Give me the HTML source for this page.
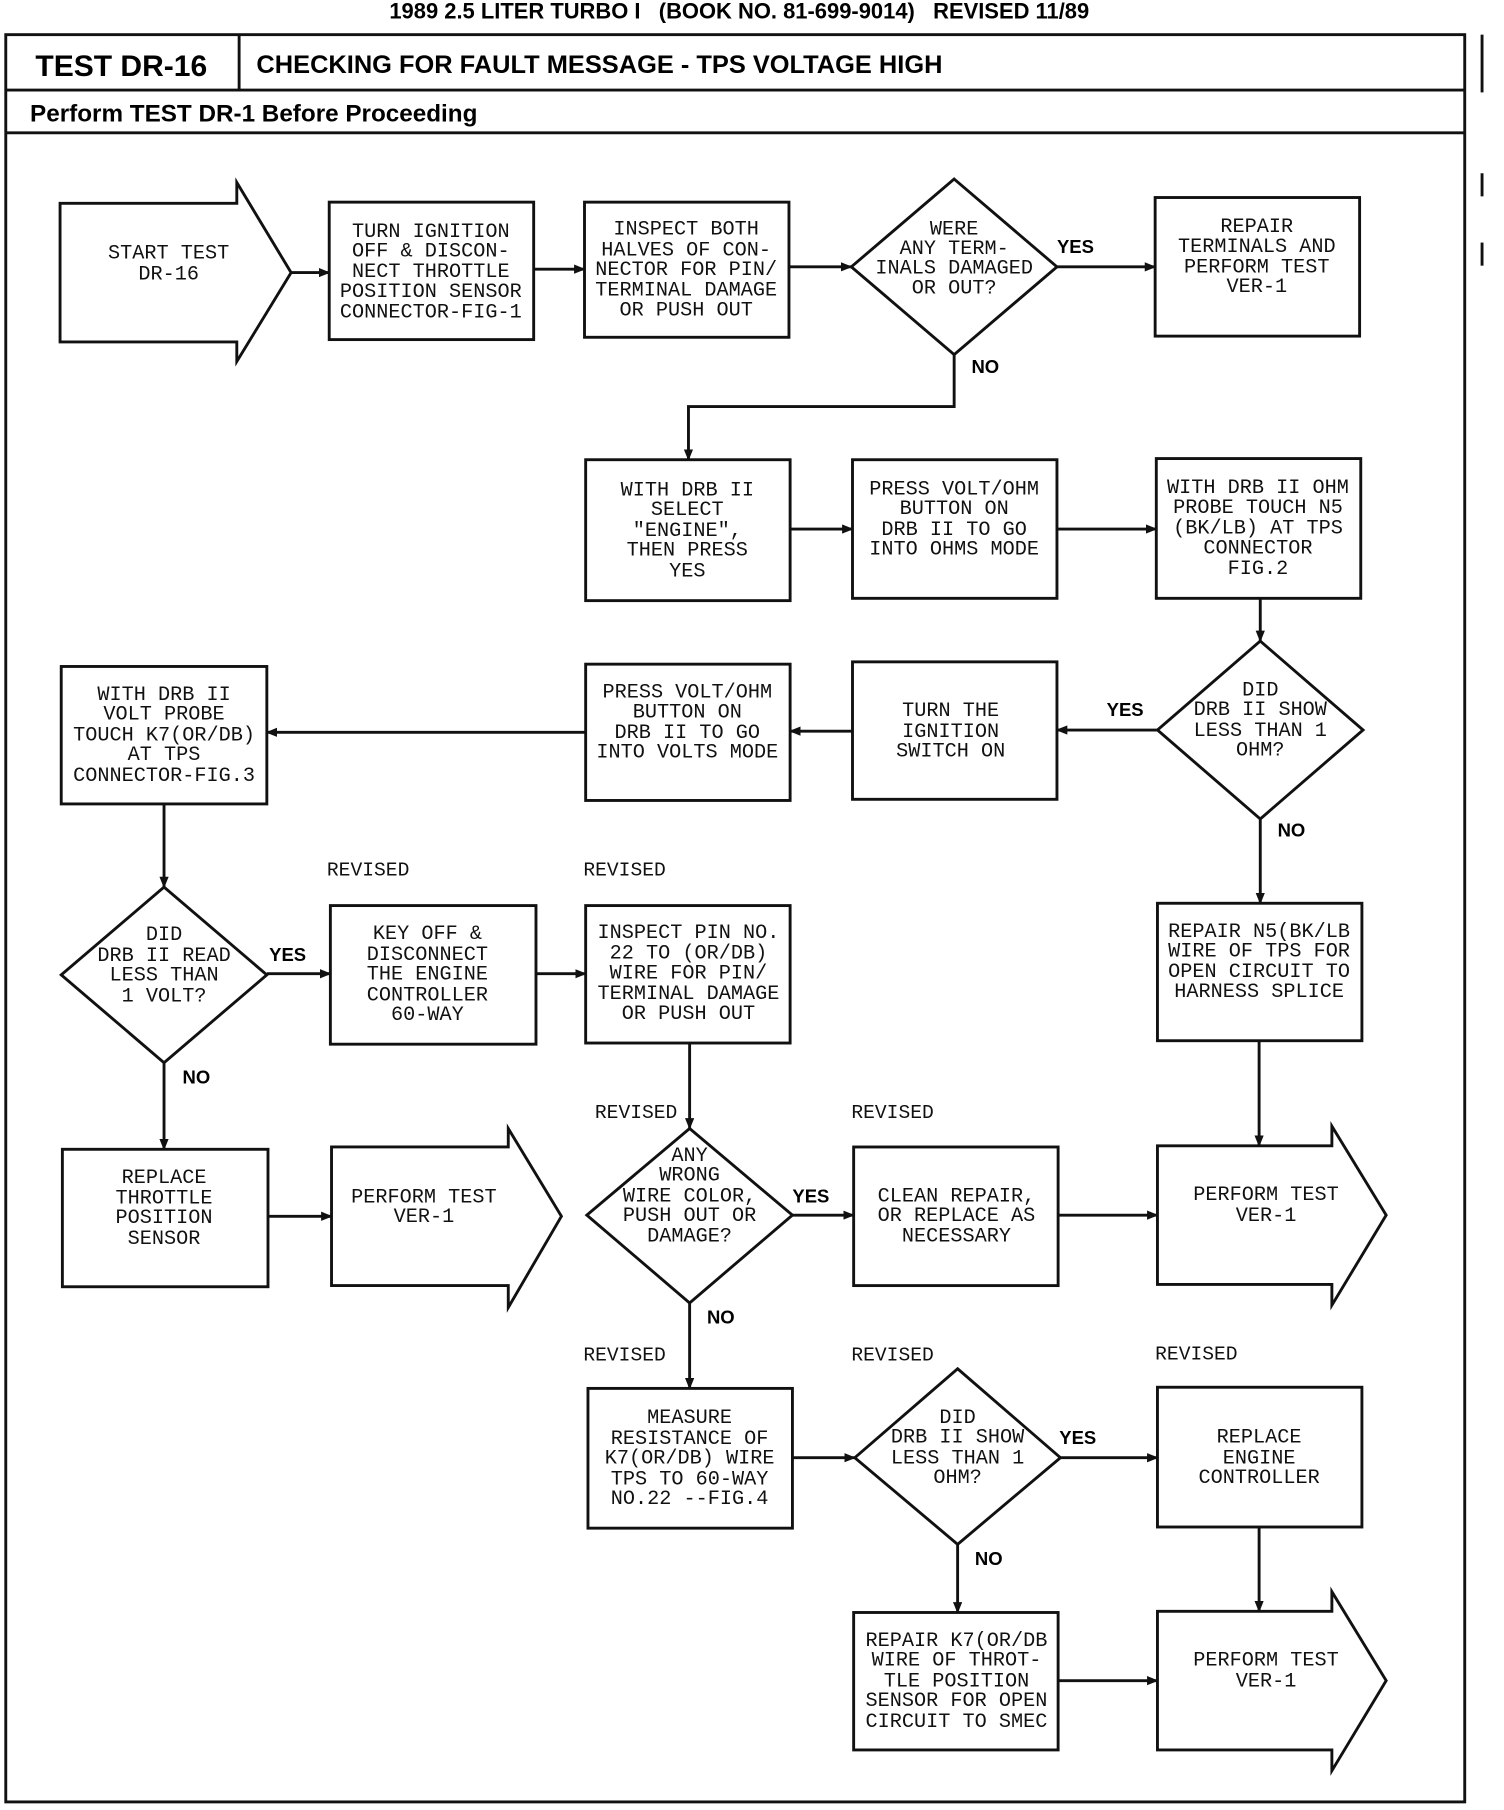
<!DOCTYPE html>
<html><head><meta charset="utf-8"><style>
html,body{margin:0;padding:0;background:#fff}
svg{display:block}
.t{font-family:"Liberation Mono",monospace;font-size:17.5px;text-anchor:middle;fill:#111}
.l{font-family:"Liberation Mono",monospace;font-size:17px;fill:#111}
.b{font-family:"Liberation Sans",sans-serif;font-weight:bold;fill:#000}
.s{fill:none;stroke:#111;stroke-width:2.5}
</style></head><body>
<svg width="1504" height="1810" viewBox="0 0 1302 1567" preserveAspectRatio="none" xmlns="http://www.w3.org/2000/svg">
<defs><marker id="a" markerWidth="10" markerHeight="8" refX="9" refY="4" orient="auto" markerUnits="userSpaceOnUse"><path d="M0,0 L10,4 L0,8 z" fill="#111"/></marker></defs>
<text class="b" x="640" y="16" font-size="19" text-anchor="middle">1989 2.5 LITER TURBO I &#160;&#160;(BOOK NO. 81-699-9014) &#160;&#160;REVISED 11/89</text>
<rect x="5" y="30" width="1263" height="1530" class="s" stroke-width="2"/>
<line x1="5" y1="78" x2="1268" y2="78" class="s" stroke-width="2"/>
<line x1="207" y1="30" x2="207" y2="78" class="s" stroke-width="2"/>
<line x1="5" y1="115" x2="1268" y2="115" class="s" stroke-width="2"/>
<text class="b" x="105" y="66" font-size="26" text-anchor="middle">TEST DR-16</text>
<text class="b" x="222" y="63" font-size="22">CHECKING FOR FAULT MESSAGE - TPS VOLTAGE HIGH</text>
<text class="b" x="26" y="105" font-size="21">Perform TEST DR-1 Before Proceeding</text>
<line x1="1283" y1="30" x2="1283" y2="80" class="s" stroke-width="2"/>
<line x1="1283" y1="150" x2="1283" y2="170" class="s" stroke-width="2"/>
<line x1="1283" y1="210" x2="1283" y2="230" class="s" stroke-width="2"/>

<g class="s">
<path d="M52,176 H205 V158 L252,236 L205,313 V296 H52 Z"/>
<rect x="285" y="175" width="177" height="119"/>
<rect x="506" y="175" width="177" height="117"/>
<path d="M826,155 L915,231 L826,307 L737,231 Z"/>
<rect x="1000" y="171" width="177" height="120"/>
<rect x="507" y="398" width="177" height="122"/>
<rect x="738" y="398" width="177" height="120"/>
<rect x="1001" y="397" width="177" height="121"/>
<path d="M1091,555 L1180,632 L1091,709 L1002,632 Z"/>
<rect x="738" y="573" width="177" height="119"/>
<rect x="507" y="575" width="177" height="118"/>
<rect x="53" y="577" width="178" height="119"/>
<path d="M142,768 L231,844 L142,920 L53,844 Z"/>
<rect x="286" y="784" width="178" height="120"/>
<rect x="507" y="784" width="177" height="119"/>
<rect x="1002" y="782" width="177" height="119"/>
<rect x="54" y="995" width="178" height="119"/>
<path d="M287,993 H440 V977 L486,1053 L440,1132 V1113 H287 Z"/>
<path d="M597,977 L686,1052 L597,1128 L508,1052 Z"/>
<rect x="739" y="993" width="177" height="120"/>
<path d="M1002,992 H1153 V975 L1200,1052 L1153,1130 V1112 H1002 Z"/>
<rect x="509" y="1202" width="177" height="121"/>
<path d="M829,1185 L918,1262 L829,1337 L740,1262 Z"/>
<rect x="1002" y="1201" width="177" height="121"/>
<rect x="739" y="1396" width="177" height="119"/>
<path d="M1002,1395 H1153 V1378 L1200,1455 L1153,1533 V1515 H1002 Z"/>
</g>

<g class="s" stroke-width="2" marker-end="url(#a)">
<line x1="252" y1="236" x2="285" y2="236"/>
<line x1="462" y1="233" x2="506" y2="233"/>
<line x1="683" y1="231" x2="737" y2="231"/>
<line x1="915" y1="231" x2="1000" y2="231"/>
<path d="M826,307 V352 H596 V398"/>
<line x1="684" y1="458" x2="738" y2="458"/>
<line x1="915" y1="458" x2="1001" y2="458"/>
<line x1="1091" y1="518" x2="1091" y2="555"/>
<line x1="1002" y1="632" x2="915" y2="632"/>
<line x1="738" y1="633" x2="684" y2="633"/>
<line x1="507" y1="634" x2="231" y2="634"/>
<line x1="142" y1="696" x2="142" y2="768"/>
<line x1="1091" y1="709" x2="1091" y2="782"/>
<line x1="231" y1="843" x2="286" y2="843"/>
<line x1="464" y1="843" x2="507" y2="843"/>
<line x1="142" y1="920" x2="142" y2="995"/>
<line x1="232" y1="1053" x2="287" y2="1053"/>
<line x1="597" y1="903" x2="597" y2="977"/>
<line x1="686" y1="1052" x2="739" y2="1052"/>
<line x1="916" y1="1052" x2="1002" y2="1052"/>
<line x1="1090" y1="901" x2="1090" y2="992"/>
<line x1="597" y1="1128" x2="597" y2="1202"/>
<line x1="686" y1="1262" x2="740" y2="1262"/>
<line x1="918" y1="1262" x2="1002" y2="1262"/>
<line x1="829" y1="1337" x2="829" y2="1396"/>
<line x1="1090" y1="1322" x2="1090" y2="1395"/>
<line x1="916" y1="1455" x2="1002" y2="1455"/>
</g>

<g class="t">
<text x="146" y="224">START TEST</text><text x="146" y="242">DR-16</text>
<text x="373" y="205">TURN IGNITION</text><text x="373" y="222">OFF &amp; DISCON-</text><text x="373" y="240">NECT THROTTLE</text><text x="373" y="257">POSITION SENSOR</text><text x="373" y="275">CONNECTOR-FIG-1</text>
<text x="594" y="203">INSPECT BOTH</text><text x="594" y="221">HALVES OF CON-</text><text x="594" y="238">NECTOR FOR PIN/</text><text x="594" y="256">TERMINAL DAMAGE</text><text x="594" y="273">OR PUSH OUT</text>
<text x="826" y="203">WERE</text><text x="826" y="220">ANY TERM-</text><text x="826" y="237">INALS DAMAGED</text><text x="826" y="254">OR OUT?</text>
<text x="1088" y="201">REPAIR</text><text x="1088" y="218">TERMINALS AND</text><text x="1088" y="236">PERFORM TEST</text><text x="1088" y="253">VER-1</text>
<text x="595" y="429">WITH DRB II</text><text x="595" y="446">SELECT</text><text x="595" y="464">"ENGINE",</text><text x="595" y="481">THEN PRESS</text><text x="595" y="499">YES</text>
<text x="826" y="428">PRESS VOLT/OHM</text><text x="826" y="445">BUTTON ON</text><text x="826" y="463">DRB II TO GO</text><text x="826" y="480">INTO OHMS MODE</text>
<text x="1089" y="427">WITH DRB II OHM</text><text x="1089" y="444">PROBE TOUCH N5</text><text x="1089" y="462">(BK/LB) AT TPS</text><text x="1089" y="479">CONNECTOR</text><text x="1089" y="497">FIG.2</text>
<text x="1091" y="602">DID</text><text x="1091" y="619">DRB II SHOW</text><text x="1091" y="637">LESS THAN 1</text><text x="1091" y="654">OHM?</text>
<text x="823" y="620">TURN THE</text><text x="823" y="638">IGNITION</text><text x="823" y="655">SWITCH ON</text>
<text x="595" y="604">PRESS VOLT/OHM</text><text x="595" y="621">BUTTON ON</text><text x="595" y="639">DRB II TO GO</text><text x="595" y="656">INTO VOLTS MODE</text>
<text x="142" y="606">WITH DRB II</text><text x="142" y="623">VOLT PROBE</text><text x="142" y="641">TOUCH K7(OR/DB)</text><text x="142" y="658">AT TPS</text><text x="142" y="676">CONNECTOR-FIG.3</text>
<text x="142" y="814">DID</text><text x="142" y="832">DRB II READ</text><text x="142" y="849">LESS THAN</text><text x="142" y="867">1 VOLT?</text>
<text x="370" y="813">KEY OFF &amp;</text><text x="370" y="831">DISCONNECT</text><text x="370" y="848">THE ENGINE</text><text x="370" y="866">CONTROLLER</text><text x="370" y="883">60-WAY</text>
<text x="596" y="812">INSPECT PIN NO.</text><text x="596" y="830">22 TO (OR/DB)</text><text x="596" y="847">WIRE FOR PIN/</text><text x="596" y="865">TERMINAL DAMAGE</text><text x="596" y="882">OR PUSH OUT</text>
<text x="1090" y="811">REPAIR N5(BK/LB</text><text x="1090" y="828">WIRE OF TPS FOR</text><text x="1090" y="846">OPEN CIRCUIT TO</text><text x="1090" y="863">HARNESS SPLICE</text>
<text x="142" y="1024">REPLACE</text><text x="142" y="1042">THROTTLE</text><text x="142" y="1059">POSITION</text><text x="142" y="1077">SENSOR</text>
<text x="367" y="1041">PERFORM TEST</text><text x="367" y="1058">VER-1</text>
<text x="597" y="1005">ANY</text><text x="597" y="1022">WRONG</text><text x="597" y="1040">WIRE COLOR,</text><text x="597" y="1057">PUSH OUT OR</text><text x="597" y="1075">DAMAGE?</text>
<text x="828" y="1040">CLEAN REPAIR,</text><text x="828" y="1057">OR REPLACE AS</text><text x="828" y="1075">NECESSARY</text>
<text x="1096" y="1039">PERFORM TEST</text><text x="1096" y="1057">VER-1</text>
<text x="597" y="1232">MEASURE</text><text x="597" y="1250">RESISTANCE OF</text><text x="597" y="1267">K7(OR/DB) WIRE</text><text x="597" y="1285">TPS TO 60-WAY</text><text x="597" y="1302">NO.22 --FIG.4</text>
<text x="829" y="1232">DID</text><text x="829" y="1249">DRB II SHOW</text><text x="829" y="1267">LESS THAN 1</text><text x="829" y="1284">OHM?</text>
<text x="1090" y="1249">REPLACE</text><text x="1090" y="1267">ENGINE</text><text x="1090" y="1284">CONTROLLER</text>
<text x="828" y="1425">REPAIR K7(OR/DB</text><text x="828" y="1442">WIRE OF THROT-</text><text x="828" y="1460">TLE POSITION</text><text x="828" y="1477">SENSOR FOR OPEN</text><text x="828" y="1495">CIRCUIT TO SMEC</text>
<text x="1096" y="1442">PERFORM TEST</text><text x="1096" y="1460">VER-1</text>
</g>

<g class="b" font-size="16">
<text x="915" y="219">YES</text><text x="841" y="323">NO</text>
<text x="958" y="620">YES</text><text x="1106" y="724">NO</text>
<text x="233" y="832">YES</text><text x="158" y="938">NO</text>
<text x="686" y="1041">YES</text><text x="612" y="1146">NO</text>
<text x="917" y="1250">YES</text><text x="844" y="1355">NO</text>
</g>
<g class="l">
<text x="283" y="758">REVISED</text><text x="505" y="758">REVISED</text>
<text x="515" y="968">REVISED</text><text x="737" y="968">REVISED</text>
<text x="505" y="1178">REVISED</text><text x="737" y="1178">REVISED</text><text x="1000" y="1177">REVISED</text>
</g>
</svg>
</body></html>
